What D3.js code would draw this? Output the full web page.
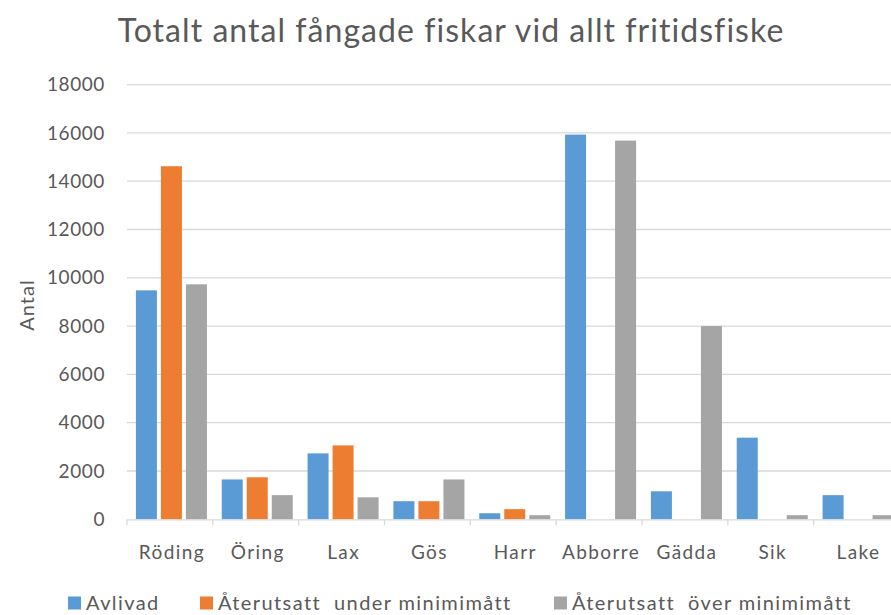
<!DOCTYPE html>
<html>
<head>
<meta charset="utf-8">
<script src="https://cdn.jsdelivr.net/npm/d3@7"></script>
<style>
  body { margin: 0; background: #fff; overflow: hidden; }
  svg { display: block; font-family: Lato, "Open Sans", sans-serif; }
</style>
</head>
<body>
<svg></svg>
<script>
(function (d3) {
  'use strict';

  const categories = ['Röding', 'Öring', 'Lax', 'Gös', 'Harr', 'Abborre', 'Gädda', 'Sik', 'Lake'];
  const seriesNames = ['Avlivad', 'Återutsatt  under minimimått', 'Återutsatt  över minimimått'];
  const avlivad = [9480, 1650, 2730, 750, 250, 15930, 1160, 3380, 1000];
  const underMin = [14620, 1740, 3060, 750, 420, 0, 0, 0, 0];
  const overMin = [9730, 1000, 910, 1650, 170, 15680, 8000, 170, 170];
  const yTicks = [0, 2000, 4000, 6000, 8000, 10000, 12000, 14000, 16000, 18000];
  const colors = ['#5b9bd5', '#ed7d31', '#a5a5a5'];

  const width = 891;
  const height = 615;
  const margin = { top: 84.6, right: -8.5, bottom: 95.7, left: 127 };
  const innerWidth = width - margin.left - margin.right;
  const innerHeight = height - margin.top - margin.bottom;

  const svg = d3.select('svg')
      .attr('width', width)
      .attr('height', height);

  const rows = categories.map((c, i) => ({
    cat: c,
    values: [avlivad[i], underMin[i], overMin[i]]
  }));

  const x0 = d3.scaleBand()
      .domain(categories)
      .range([0, innerWidth])
      .paddingInner(0.126)
      .paddingOuter(0.063);

  const x1 = d3.scaleBand()
      .domain(d3.range(3))
      .range([0, x0.bandwidth()]);

  const y = d3.scaleLinear()
      .domain([0, 18000])
      .range([innerHeight, 0]);

  const g = svg.append('g')
      .attr('transform', `translate(${margin.left},${margin.top})`);

  // gridlines
  g.selectAll('.grid').data(yTicks.slice(1))
    .enter().append('line')
      .attr('x1', 0)
      .attr('x2', innerWidth)
      .attr('y1', d => y(d))
      .attr('y2', d => y(d))
      .attr('stroke', '#d9d9d9')
      .attr('stroke-width', 1.3);

  // y tick labels
  g.selectAll('.ytick').data(yTicks)
    .enter().append('text')
      .attr('x', -22)
      .attr('y', d => y(d))
      .attr('dy', '0.35em')
      .attr('text-anchor', 'end')
      .attr('fill', '#595959')
      .attr('font-size', 19)
      .attr('letter-spacing', 0.6)
      .text(d => d);

  // bars
  const groups = g.selectAll('.grp').data(rows)
    .enter().append('g')
      .attr('transform', d => `translate(${x0(d.cat) + 1.5},0)`);

  groups.selectAll('rect').data(d => d.values)
    .enter().append('rect')
      .attr('x', (d, i) => x1(i) + 2)
      .attr('width', x1.bandwidth() - 4)
      .attr('y', d => y(d))
      .attr('height', d => innerHeight - y(d))
      .attr('fill', (d, i) => colors[i]);

  // x axis line and ticks
  const xAxis = d3.axisBottom(x0).tickSize(0).tickFormat('');
  g.append('g')
      .attr('transform', `translate(0,${innerHeight})`)
      .call(xAxis)
      .call(s => s.select('.domain').attr('stroke', '#d9d9d9').attr('stroke-width', 1.3));

  const step = x0.step();
  g.selectAll('.xtick').data(d3.range(categories.length + 1))
    .enter().append('line')
      .attr('x1', i => i * step)
      .attr('x2', i => i * step)
      .attr('y1', innerHeight)
      .attr('y2', innerHeight + 6)
      .attr('stroke', '#d9d9d9')
      .attr('stroke-width', 1.3);

  g.selectAll('.xlabel').data(categories)
    .enter().append('text')
      .attr('x', d => x0(d) + x0.bandwidth() / 2 + 2)
      .attr('y', innerHeight + 33)
      .attr('dy', '0.35em')
      .attr('text-anchor', 'middle')
      .attr('fill', '#595959')
      .attr('font-size', 19)
      .attr('letter-spacing', 1.4)
      .text(d => d);

  // y axis title
  svg.append('text')
      .attr('transform', 'translate(27,305) rotate(-90)')
      .attr('dy', '0.35em')
      .attr('text-anchor', 'middle')
      .attr('fill', '#595959')
      .attr('font-size', 20)
      .attr('letter-spacing', 1)
      .text('Antal');

  // title
  svg.append('text')
      .attr('x', 451)
      .attr('y', 31)
      .attr('dy', '0.35em')
      .attr('text-anchor', 'middle')
      .attr('fill', '#595959')
      .attr('font-size', 32)
      .attr('letter-spacing', 1.05)
      .text('Totalt antal fångade fiskar vid allt fritidsfiske');

  // legend
  const legendX = [68, 200, 554];
  const legend = svg.selectAll('.legend').data(seriesNames)
    .enter().append('g')
      .attr('transform', (d, i) => `translate(${legendX[i]},603)`);

  legend.append('rect')
      .attr('x', 0)
      .attr('y', -6.5)
      .attr('width', 13)
      .attr('height', 13)
      .attr('fill', (d, i) => colors[i]);

  legend.append('text')
      .attr('x', 18)
      .attr('dy', '0.35em')
      .attr('fill', '#595959')
      .attr('font-size', 20)
      .attr('letter-spacing', 1.4)
      .style('white-space', 'pre')
      .text(d => d);

}(d3));
</script>
</body>
</html>
